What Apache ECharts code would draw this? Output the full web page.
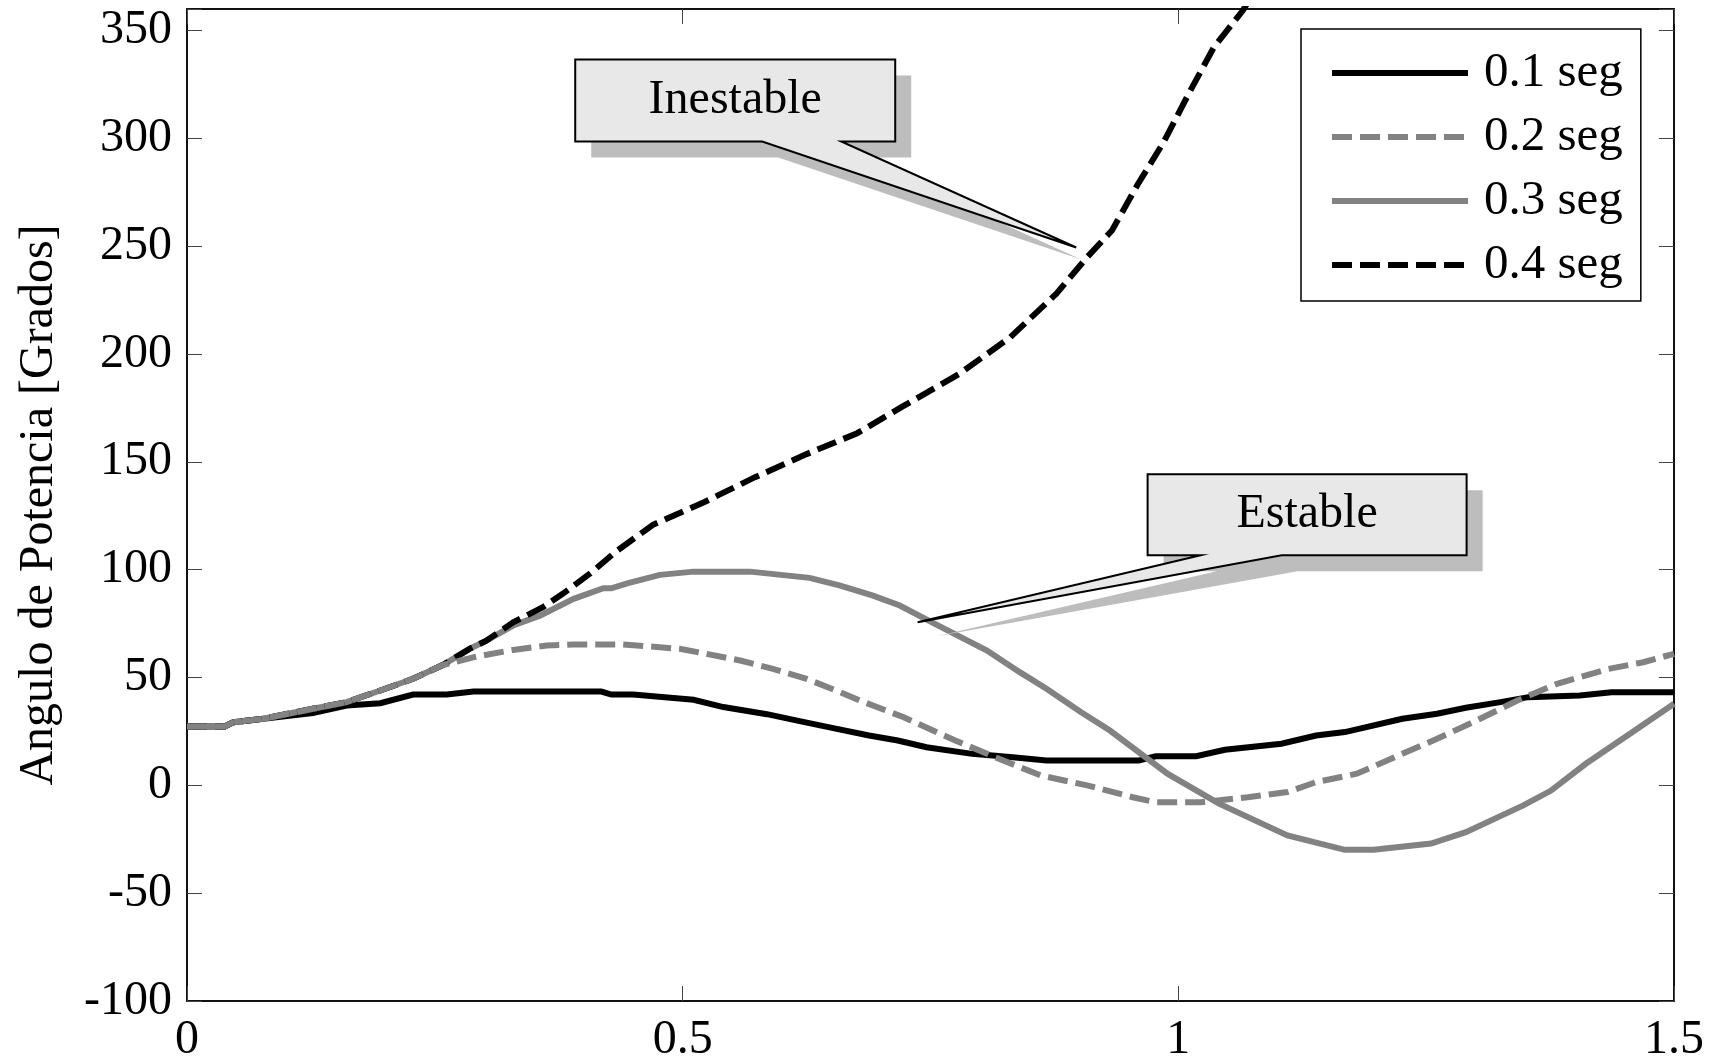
<!DOCTYPE html>
<html>
<head>
<meta charset="utf-8">
<script src="https://cdn.jsdelivr.net/npm/echarts@6/dist/echarts.min.js"></script>
<style>
  html, body { margin: 0; padding: 0; background: #ffffff; }
  #chart { width: 1718px; height: 1060px; }
</style>
</head>
<body>
<div id="chart"></div>
<script>
// Power angle (degrees) versus time (s) for four fault-clearing times
const seriesNames = ['0.1 seg', '0.2 seg', '0.3 seg', '0.4 seg'];

const time01 = [0, 0.038, 0.047, 0.077, 0.127, 0.161, 0.195, 0.228, 0.262, 0.289, 0.418, 0.428, 0.45, 0.511, 0.541, 0.585, 0.618, 0.647, 0.688, 0.717, 0.746, 0.792, 0.833, 0.867, 0.96, 0.977, 1.018, 1.047, 1.104, 1.139, 1.168, 1.226, 1.261, 1.29, 1.325, 1.353, 1.405, 1.437, 1.5];
const angle01 = [27.3, 27.3, 29.3, 30.9, 33.5, 37, 38.1, 42.1, 42.1, 43.5, 43.5, 42.1, 42.1, 39.7, 36.3, 33, 29.8, 27, 23.1, 20.8, 17.7, 14.6, 13, 11.5, 11.5, 13.5, 13.5, 16.5, 19.3, 23.1, 24.7, 30.9, 33.2, 36, 38.6, 40.9, 41.7, 43.2, 43.2];

const time02 = [0, 0.038, 0.047, 0.077, 0.127, 0.161, 0.195, 0.228, 0.258, 0.292, 0.329, 0.363, 0.39, 0.44, 0.467, 0.497, 0.524, 0.558, 0.591, 0.625, 0.659, 0.679, 0.723, 0.775, 0.815, 0.861, 0.908, 0.954, 0.977, 1.023, 1.07, 1.11, 1.139, 1.18, 1.226, 1.261, 1.301, 1.342, 1.382, 1.434, 1.469, 1.5];
const angle02 = [27.3, 27.3, 29.3, 30.9, 35.5, 38.6, 44, 49.4, 55.8, 59.7, 62.8, 64.8, 65.3, 65.3, 64.4, 63.3, 61, 57.9, 54, 49.4, 43.2, 39.3, 31.6, 20.8, 13.1, 4.6, 0, -5.5, -7.8, -7.8, -5.5, -3.1, 1.5, 5.4, 14.6, 21.6, 30.1, 39.3, 47.1, 54, 57.1, 61];

const time03 = [0, 0.038, 0.047, 0.077, 0.127, 0.161, 0.195, 0.228, 0.258, 0.285, 0.302, 0.329, 0.356, 0.39, 0.42, 0.428, 0.444, 0.477, 0.511, 0.568, 0.628, 0.659, 0.692, 0.719, 0.753, 0.807, 0.84, 0.867, 0.902, 0.931, 0.989, 1.041, 1.11, 1.168, 1.197, 1.255, 1.29, 1.348, 1.376, 1.411, 1.463, 1.5];
const angle03 = [27.3, 27.3, 29.3, 30.9, 35.5, 38.6, 44, 49.4, 55.8, 63.3, 67.1, 74.1, 78.7, 86.5, 91.4, 91.4, 93.7, 97.6, 99.1, 99.1, 96.2, 92.6, 88, 83.4, 75.2, 62.5, 52.5, 44.8, 33.9, 25.4, 5.4, -8.5, -23.2, -29.9, -29.9, -27, -21.7, -9.3, -2.4, 10, 26.2, 37.8];

const time04 = [0, 0.038, 0.047, 0.077, 0.127, 0.161, 0.195, 0.228, 0.258, 0.285, 0.302, 0.329, 0.359, 0.379, 0.406, 0.433, 0.47, 0.522, 0.573, 0.625, 0.676, 0.722, 0.779, 0.83, 0.877, 0.908, 0.933, 0.959, 0.985, 1.011, 1.036, 1.065, 1.09];
const angle04 = [27.3, 27.3, 29.3, 30.9, 35.5, 38.6, 44, 49.4, 55.8, 63.3, 67.1, 75.6, 82.6, 88.8, 98, 108.5, 120.8, 131.4, 142.9, 153.6, 163.3, 175.7, 190.8, 207.6, 228, 244.9, 257.3, 278.6, 298.1, 321.2, 342.4, 359.3, 378];

const xTicks = [0, 0.5, 1, 1.5];
const yTickStep = 50;

// Callout notes, pointing at a point on the curves (time, angle)
const calloutText = ['Inestable', 'Estable'];
const calloutTipX = [0.897, 0.737];
const calloutTipY = [249.4, 75.6];

const FONT = '"Liberation Serif", "Times New Roman", serif';
const FS = 48;
const BLACK = '#000000';
const GREY = '#828282';

const chart = echarts.init(document.getElementById('chart'), null, { renderer: 'canvas' });

function pairs(t, v) { return t.map((x, i) => [x, v[i]]); }

const styles = [
  { color: BLACK, type: 'solid' },
  { color: GREY, type: [20, 8] },
  { color: GREY, type: 'solid' },
  { color: BLACK, type: [20, 8] }
];
const dataSets = [pairs(time01, angle01), pairs(time02, angle02), pairs(time03, angle03), pairs(time04, angle04)];

const axisLineStyle = { color: '#111', width: 2 };
const tickStyle = { color: '#444', width: 1 };

function frameAxis(extra) {
  return Object.assign({
    type: 'value',
    axisLine: { show: true, onZero: false, lineStyle: axisLineStyle },
    axisTick: { show: true, inside: true, length: 15, lineStyle: tickStyle },
    splitLine: { show: false }
  }, extra);
}

const option = {
  backgroundColor: '#ffffff',
  animation: false,
  grid: { left: 187, right: 44, top: 9, bottom: 59, containLabel: false, outerBoundsMode: 'none' },
  legend: {
    data: seriesNames,
    orient: 'vertical',
    left: 1301,
    top: 29,
    padding: [19, 18, 11, 28],
    itemGap: 14,
    itemWidth: 136,
    itemHeight: 20,
    backgroundColor: '#ffffff',
    borderColor: '#000',
    borderWidth: 1.5,
    borderRadius: 0,
    itemStyle: { opacity: 0 },
    lineStyle: { width: 6 },
    textStyle: { fontFamily: FONT, fontSize: 49, lineHeight: 50, color: '#000', padding: [0, 0, 0, 11] }
  },
  xAxis: [
    frameAxis({
      min: xTicks[0], max: xTicks[xTicks.length - 1], interval: 0.5, position: 'bottom',
      axisLabel: { fontFamily: FONT, fontSize: FS, color: '#000', margin: 15 }
    }),
    frameAxis({
      min: xTicks[0], max: xTicks[xTicks.length - 1], interval: 0.5, position: 'top',
      axisLabel: { show: false }
    })
  ],
  yAxis: [
    frameAxis({
      min: -100, max: 360, interval: yTickStep, position: 'left',
      name: 'Angulo de Potencia [Grados]',
      nameLocation: 'middle',
      nameGap: 124,
      nameTextStyle: { fontFamily: FONT, fontSize: FS, color: '#000' },
      axisLabel: {
        fontFamily: FONT, fontSize: FS, color: '#000', margin: 15,
        formatter: v => (v % yTickStep === 0 ? String(v) : '')
      }
    }),
    frameAxis({
      min: -100, max: 360, interval: yTickStep, position: 'right',
      axisLabel: { show: false }
    })
  ],
  series: seriesNames.map((name, i) => ({
    name: name,
    type: 'line',
    xAxisIndex: 0,
    yAxisIndex: 0,
    data: dataSets[i],
    showSymbol: false,
    symbol: 'none',
    smooth: false,
    clip: true,
    color: styles[i].color,
    lineStyle: { color: styles[i].color, width: 6, type: styles[i].type, cap: 'butt', join: 'miter' },
    z: 2 + (i === 1 ? 1 : 0)
  }))
};

chart.setOption(option);

// Callout box geometry, in pixels relative to the pointer tip
const calloutLayout = [
  { box: [-501, -188, -181, -106], base: [-314, -235], shadowTip: [5, 12] },
  { box: [230, -148, 549, -67], base: [283, 364], shadowTip: [19, 14] }
];
const SHADOW = 16;

function calloutGraphics() {
  const out = [];
  calloutText.forEach((txt, i) => {
    const tip = chart.convertToPixel({ xAxisIndex: 0, yAxisIndex: 0 }, [calloutTipX[i], calloutTipY[i]]);
    const L = calloutLayout[i];
    const l = tip[0] + L.box[0], t = tip[1] + L.box[1], r = tip[0] + L.box[2], b = tip[1] + L.box[3];
    const b1 = tip[0] + L.base[0], b2 = tip[0] + L.base[1];
    const shape = (dx, dy, tx, ty) => [
      [l + dx, t + dy], [r + dx, t + dy], [r + dx, b + dy], [b2 + dx, b + dy],
      [tx, ty], [b1 + dx, b + dy], [l + dx, b + dy]
    ];
    out.push({
      type: 'polygon', z: 100,
      shape: { points: shape(SHADOW, SHADOW, tip[0] + L.shadowTip[0], tip[1] + L.shadowTip[1]) },
      style: { fill: '#bdbdbd', stroke: null }
    });
    out.push({
      type: 'polygon', z: 101,
      shape: { points: shape(0, 0, tip[0], tip[1]) },
      style: { fill: '#e8e8e8', stroke: '#000', lineWidth: 2, lineJoin: 'miter' }
    });
    out.push({
      type: 'text', z: 102,
      x: (l + r) / 2, y: (t + b) / 2,
      style: { text: txt, fill: '#000', font: FS + 'px ' + FONT, align: 'center', verticalAlign: 'middle' }
    });
  });
  return out;
}

chart.setOption({ graphic: calloutGraphics() });
</script>
</body>
</html>
